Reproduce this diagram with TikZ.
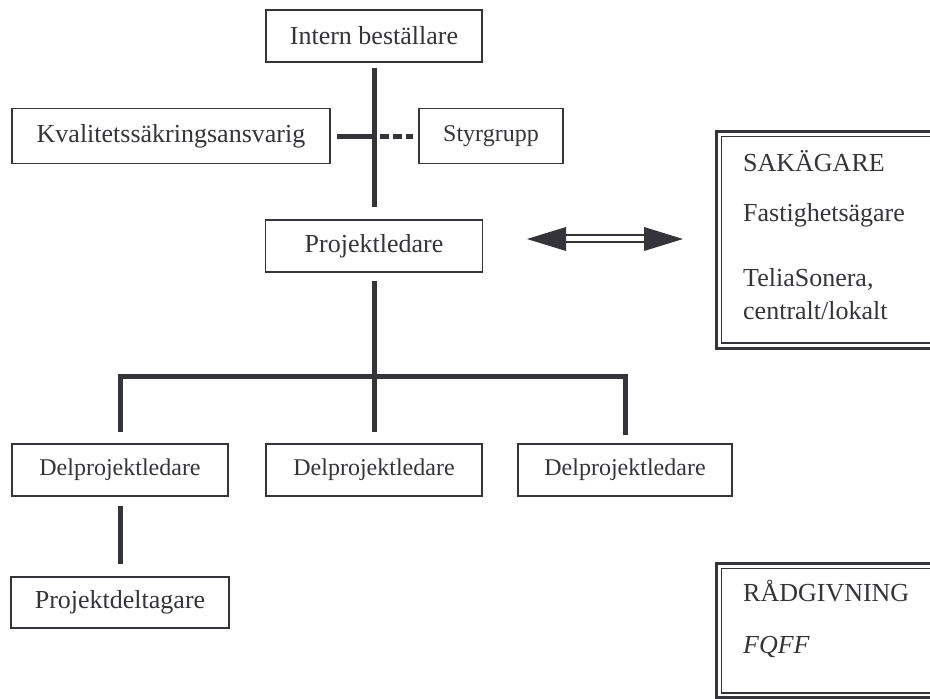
\documentclass[tikz,border=0pt]{standalone}
\usepackage{fontspec}
\setmainfont{Liberation Serif}
\definecolor{ink}{RGB}{52,52,58}
\tikzset{
  box/.style={draw=ink, line width=1.6pt, rectangle, inner sep=0pt,
    text=ink, font=\fontsize{26}{30}\selectfont},
  smallbox/.style={box, font=\fontsize{24}{28}\selectfont},
  bar/.style={draw=ink, line width=5pt, line cap=butt},
  frameout/.style={draw=ink, line width=3pt},
  framein/.style={draw=ink, line width=1.6pt},
  label/.style={anchor=base west, inner sep=0pt, text=ink,
    font=\fontsize{26}{30}\selectfont},
}
\begin{document}
\begin{tikzpicture}[x=1pt, y=-1pt]
\useasboundingbox (0,0) rectangle (930,699);

% organisation boxes
\node[box, minimum width=216pt, minimum height=52pt] (intern) at (374,36) {Intern beställare};
\node[box, minimum width=318pt, minimum height=55pt] (kval) at (171,136) {Kvalitetssäkringsansvarig};
\node[smallbox, minimum width=144pt, minimum height=55pt] (styr) at (491,136) {Styrgrupp};
\node[box, minimum width=217pt, minimum height=52pt] (proj) at (374,246) {Projektledare};
\node[smallbox, minimum width=216pt, minimum height=52pt] (d1) at (120,470) {Delprojektledare};
\node[smallbox, minimum width=216pt, minimum height=52pt] (d2) at (374,470) {Delprojektledare};
\node[smallbox, minimum width=214pt, minimum height=52pt] (d3) at (625,470) {Delprojektledare};
\node[box, minimum width=218pt, minimum height=51pt] (pd) at (120,602.5) {Projektdeltagare};

% main spine
\draw[bar] ([yshift=-5pt]intern.south) -- ([yshift=12pt]proj.north);
\coordinate (spine) at (intern.south |- kval.east);
\draw[bar] ([xshift=6pt]kval.east) -- (spine);
\draw[bar, dash pattern=on 9pt off 4pt] ([xshift=6pt]spine) -- ([xshift=-5pt]styr.west);

% branches to the sub-project leaders
\coordinate (bus) at (374,376);
\draw[bar] ([yshift=-8pt]proj.south) -- ([yshift=11pt]d2.north);
\draw[bar, line join=miter] ([yshift=11pt]d1.north) |- (bus) -| ([yshift=8pt]d3.north);
\draw[bar] ([yshift=-9pt]d1.south) -- ([yshift=12pt]pd.north);

% double-headed arrow towards the stakeholders
\coordinate (aL) at (527,239);
\coordinate (aR) at (683,239);
\fill[ink] (aL) -- ++(39,-12) -- ++(0,24) -- cycle;
\fill[ink] (aR) -- ++(-39,-12) -- ++(0,24) -- cycle;
\draw[ink, line width=2.6pt] ([shift={(38,-4)}]aL) -- ([shift={(-38,-4)}]aR);
\draw[ink, line width=2.6pt] ([shift={(38,3)}]aL) -- ([shift={(-38,3)}]aR);

% stakeholder frame
\draw[frameout] (716.5,131.5) rectangle (945,348.5);
\draw[framein] (721.5,136.5) rectangle (945,343);
\node[label] (sak) at (743,171.5) {SAKÄGARE};
\node[label] (fast) at (743,221.5) {Fastighetsägare};
\node[label] (telia) at (743,286.5) {TeliaSonera,};
\node[label] (telia2) at (743,319.5) {centralt/lokalt};

% advisory frame
\draw[frameout] (716.5,563.5) rectangle (945,697.5);
\draw[framein] (721.5,568.5) rectangle (945,692.8);
\node[label] (rad) at (743,601.5) {RÅDGIVNING};
\node[label] (fqff) at (743,653) {\itshape FQFF};
\end{tikzpicture}
\end{document}
